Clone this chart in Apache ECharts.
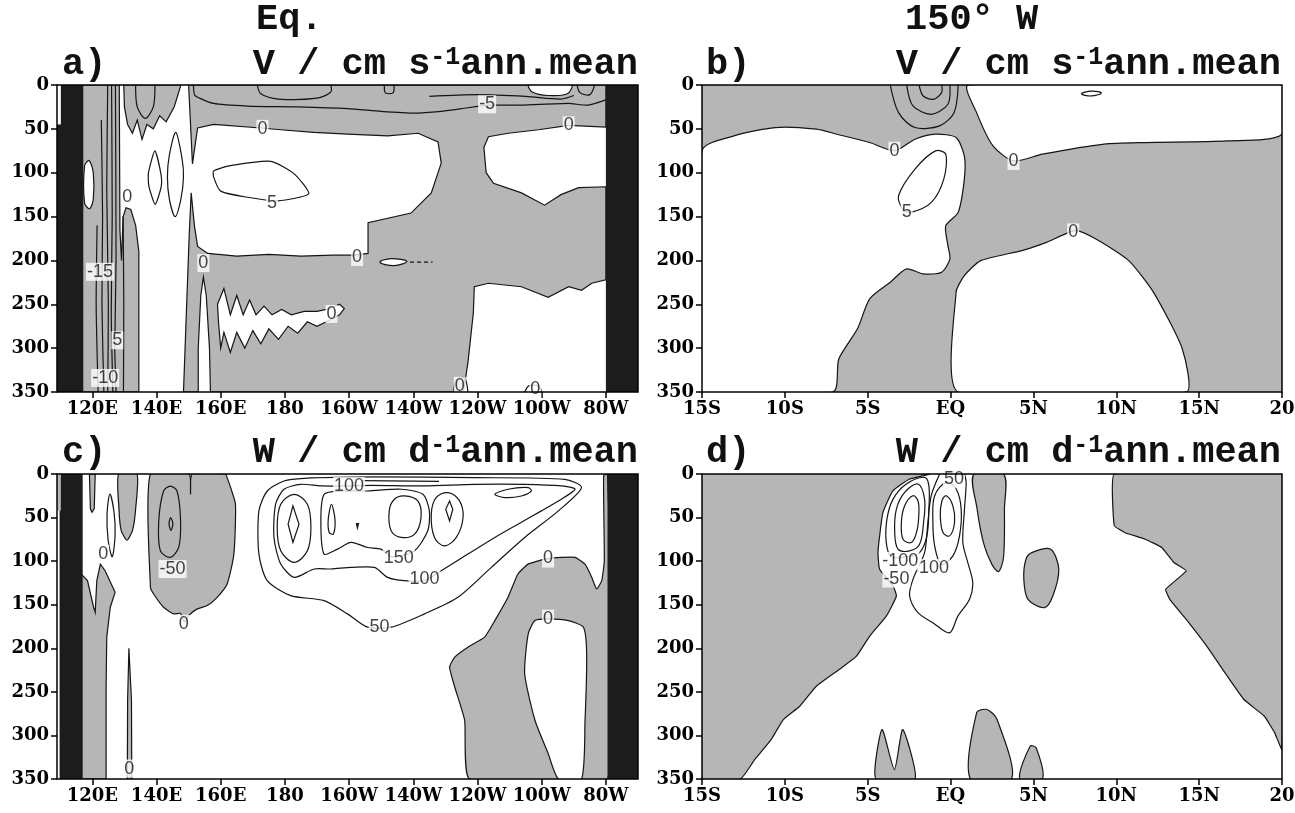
<!DOCTYPE html>
<html><head><meta charset="utf-8">
<script src="https://cdn.jsdelivr.net/npm/echarts@6/dist/echarts.min.js"></script>
<style>html,body{margin:0;padding:0;background:#fff}#c{width:1295px;height:813px}</style>
</head><body><div id="c"></div>
<script>
// ---------- axis ticks ----------
const lonTicks = [120,140,160,180,200,220,240,260,280];
const lonTickLabels = ['120E','140E','160E','180','160W','140W','120W','100W','80W'];
const latTickLabels = ['15S','10S','5S','EQ','5N','10N','15N','20'];

// ---------- panel a : V, Equator (lon, depth) ----------
const aLandL = [[109,0],[117,0],[117,350],[109,350]];
const aLandR = [[280,0],[290,0],[290,350],[280,350]];
const aCornerWhite = [[109,0],[110.2,0],[110.2,45],[109,45]];
const aGrayLeft = [[117,0],[128.4,0],[128.6,165],[129.1,200],[129.6,150],[130.5,140],[132,142],[133.5,160],[134.5,190],[134.5,350],[117,350]];
const aBlobWhite = [[117.6,92],[119,86],[120.3,100],[120.3,130],[119.2,141],[117.6,135]];
const aGrayCap = [[129.8,0],[147.6,0],[145.5,25],[143,42],[141,35],[139,50],[137,45],[135.5,62],[134,40],[132.5,55],[131,45],[130,25]];
const aGrayMain = [[150,0],[280,0],[280,48],[268.4,46],[259,51],[249.6,55],[243.4,59],[242,71],[242.7,100],[245,112],[253.7,123],[260.9,137],[266,125],[271.5,117],[280,116],[280,222],[275.6,226],[272.4,234],[268.4,230],[262,242],[253.7,230],[243.4,226],[239,230],[238.7,260],[237,317],[235.6,350],[156.8,350],[156.5,300],[155.5,240],[154.6,219],[153.8,240],[153,300],[153,350],[148.4,350],[149.5,240],[150.2,170],[150.8,123],[151.8,160],[152.8,184],[156,192],[165,195],[175,193],[185,195],[195,194],[201.5,194],[205.9,192],[205.9,157],[219.3,146],[225.6,123],[228.7,89],[227.7,65],[221.5,55],[212,58],[199.6,56],[189,54],[178.7,51],[172.4,49],[157.8,45],[152.8,49],[151.2,90]];
const aJagWhite = [[159,250],[161,232],[163,262],[165,240],[167,262],[169,245],[171,262],[173.5,252],[176,262],[179,256],[182,262],[186,258],[190,258],[194,255],[197,250],[198.5,255],[197,262],[194,268],[190,275],[187,270],[184,283],[181,275],[178,290],[175,278],[172.5,295],[170,280],[167.5,300],[165,282],[163,305],[161,282],[160,300],[159.3,270]];
const aLensWhite = [[209.6,202],[213,198],[218,201],[214,206]];
const aTopBubble = [[256,0],[257,8],[262,12],[268,10],[269.3,0]];
const aCapLoop = [[133.5,0],[134,25],[136.5,38],[139,25],[139.5,0]];
const aLens1 = [[139.5,75],[141.3,100],[141.5,115],[139.6,136],[137.6,115],[137.5,100]];
const aLens2 = [[146,54],[148,85],[148.4,105],[147.6,130],[145.8,150],[144,130],[143.4,105],[144,80]];
const aLoop5 = [[157.8,98],[163,92],[175.6,87],[182.8,101],[187.4,124],[177.8,132],[168.4,128],[160,121],[157.8,105]];
const aMinus5 = [[151.5,0],[152,12],[157.8,21],[168.4,24],[184,25],[199.6,27],[209.9,30],[220.2,32],[228.7,30],[235,27],[243.3,23],[253.7,23],[268.3,21],[274.5,23],[280,17]];
const aTopLoop1 = [[171.4,0],[172.5,10],[178,16],[190,15],[194.3,8],[194.3,0]];
const aTopLoop2 = [[211,0],[211.3,9],[213.7,9],[214,0]];
const aTopLoop3 = [[271,0],[272,9],[275,11],[276.5,0]];
const aTopLine2 = [[225,13],[240,11],[255,13],[266,16],[270,12]];
const aV1 = [[121.5,160],[121.2,250],[121.8,350]];
const aV2 = [[122.8,40],[123.2,150],[123.0,250],[123.6,350]];
const aV3 = [[124.8,0],[124.5,120],[125,250],[124.8,350]];
const aV4 = [[126,0],[126.2,150],[125.9,260],[126.4,350]];
const aV5 = [[127.2,0],[127.4,200],[127.0,300],[127.4,350]];
const aV6 = [[129.6,150],[129.8,250],[129.7,350]];
const aHump1 = [[232.5,350],[233.5,336],[236,334],[237,350]];
const aHump2 = [[254.7,350],[256,343],[259,343],[260,350]];
const aDash = [[219,202],[226,202]];
const aLabels = [['0',173,50],['5',176,134],['0',130.9,128],['-15',122.4,213],['5',127.8,291],['-10',124,334],['0',154.6,203],['0',202.5,196],['0',194.5,261],['-5',243,22],['0',268.4,46],['0',234.5,343],['0',258,347]];

// ---------- panel b : V, 150W (lat, depth) ----------
const bGray = [[-15,0],[20,0],[20,350],[-15,350]];
const bWhiteLeft = [[-15,75.1],[-13.07,58],[-10.58,48.5],[-8.1,50.4],[-6.86,56.1],[-4.88,65.6],[-3.39,75.1],[-2.15,61.8],[-0.91,56.1],[0.33,59.9],[0.83,80.8],[0.83,107.3],[0.46,145.2],[-0.29,160.4],[-0.16,183.2],[-0.04,198.3],[-0.54,213.5],[-1.65,215.4],[-2.65,209.7],[-3.64,224.9],[-4.88,243.8],[-5.62,278],[-6.74,312.1],[-7.11,350],[-15,350]];
const bWhiteTopRight = [[1.08,0],[1.57,31.5],[2.56,69.4],[3.8,86.5],[5.54,78.9],[9.26,67.5],[11.74,65.6],[16.7,63.7],[20,56.1],[20,0]];
const bWhiteLowRight = [[0.46,350],[0.33,236.2],[0.83,217.3],[1.82,200.2],[4.3,188.8],[5.79,179.4],[7.53,166.1],[8.77,175.6],[10.75,200.2],[12.24,236.2],[13.98,300.7],[14.22,350]];
const bBubble = [[7.9,10],[8.5,7],[9.1,9],[8.5,12.5]];
const bLoop5 = [[-3.14,126.3],[-2.15,95.9],[-0.91,75.1],[-0.29,78.9],[-0.41,107.3],[-1.16,133.9],[-2.4,145.2],[-2.89,141.4]];
const bNeg1 = [[-3.64,0],[-3.14,31.5],[-2.15,48.5],[-0.66,46.6],[0.21,31.5],[0.46,0]];
const bNeg2 = [[-2.65,0],[-2.27,23.9],[-1.16,33.4],[-0.16,22],[-0.04,0]];
const bNeg3 = [[-1.9,0],[-1.65,12.5],[-1.03,16.3],[-0.54,8.7],[-0.54,0]];
const bLabels = [['0',-3.39,75],['0',3.8,86.5],['5',-2.65,145],['0',7.4,168]];

// ---------- panel c : W, Equator (lon, depth) ----------
const cLandL = [[109.8,0],[117,0],[117,350],[109.8,350]];
const cLandR = [[280.5,0],[290,0],[290,350],[280.5,350]];
const cCornerGray = [[109,0],[110.2,0],[110.2,42],[109,42]];
const cGrayLeft = [[116.5,114.8],[118.5,122.4],[120.4,152.9],[120.9,158.7],[121.4,122.4],[122.5,103.4],[124,111],[127.1,135.8],[125.6,152.9],[124.5,187.2],[124.3,244.4],[124.3,350],[116.5,350]];
const cGrayStrip = [[119.1,0],[120.9,0],[120.6,40],[119.9,44],[119.4,40]];
const cGrayTongue = [[128.2,0],[133.9,0],[133.5,40],[132.5,65],[130.8,76],[129,65],[128.3,40]];
const cGrayBig = [[138.1,0],[150.1,0],[150.6,23],[151.1,0],[161.5,0],[162,4.2],[163.1,15.7],[164.6,34.7],[164.1,91.9],[162,126.2],[158.9,141.5],[155.8,151],[152.7,154.8],[150,162.5],[148.7,170],[147.5,160],[145.4,160.5],[142.2,152.9],[139.1,137.7],[138.1,130]];
const cGrayThin = [[131.4,200],[132.2,260],[132.3,350],[130.9,350],[131,260]];
const cGrayRight = [[237.5,350],[236,282.6],[232.9,244.4],[231.3,221.6],[232.9,210.1],[237,198.7],[242.2,187.2],[245.4,168.2],[249.5,141.5],[252.6,114.8],[255.8,103.4],[261,97.6],[266.2,95.7],[270.4,95.7],[273.5,103.4],[275.6,118.6],[277.1,132],[278.7,122.4],[279.5,99.5],[279.3,2],[280.5,0],[280.5,350]];
const cWhiteInner = [[265.2,350],[262,320.7],[257.9,282.6],[254.7,229.2],[255.8,183.4],[257.9,168.2],[262,166.3],[268.3,168.2],[273,175.8],[274,206.3],[273.5,282.6],[272.4,350]];
const cLens = [[125.5,23],[126.8,45],[127.1,70],[126.2,95],[124.9,75],[124.6,45]];
const cNeg50 = [[140.7,53.8],[142.2,19.5],[144.3,13.8],[146.4,19.5],[147.5,53.8],[146.9,84.3],[144.3,95.7],[141.2,88.1]];
const cNegIn = [[144.4,50],[145.1,57],[144.5,65],[143.9,57]];
const cP50 = [[179.7,8],[174.5,19.5],[171.9,42.3],[171.9,91.9],[174.5,122.4],[181.8,139.6],[192.2,145.3],[199.5,160.5],[205.8,175.8],[213.1,175.8],[223.5,160.5],[233.9,141.5],[244.3,107.1],[254.7,72.8],[265.2,42.3],[272.4,15.6],[267.2,6.1],[239.1,4.2],[207.9,3.4],[186,5]];
const cP100 = [[179.7,17.5],[177.1,34.7],[176.6,72.8],[178.7,103.3],[182.9,118.6],[189.1,109],[194.3,109],[200.6,107.2],[207.9,107.2],[212,118.6],[217.2,122.4],[223.5,122],[228.7,111],[237,91.9],[245.4,72.8],[252.6,57.6],[259.9,42.3],[265.2,30.9],[270.4,17.5],[266.2,13.7],[254.7,11.8],[239.1,11.8],[223.5,13.7],[207,13],[199.5,13.7],[191.2,13.7],[184.9,11.8]];
const cLoopA = [[182.9,23.3],[187,34.7],[188.1,61.4],[187,88.1],[182.9,101.4],[178.7,88.1],[177.6,61.4],[178.7,34.7]];
const cDiamA = [[182.5,36.6],[184.4,57.6],[182.5,78.5],[181,57.6]];
const cLoopB = [[192.2,23.3],[191.2,53.8],[192.2,91.9],[196.4,86.2],[200.6,78.5],[205.8,84.3],[209.9,86.2],[213.5,95],[220.4,88],[224.5,65.2],[225,42.3],[223,23.3],[216.2,17.5],[205.8,19.5],[197.4,19.5]];
const cSmallB = [[194.5,34.7],[195.6,51.9],[195.1,69],[193.8,67.1],[193.5,51.9]];
const cLoopC = [[217.2,25.2],[221.4,30.9],[222.4,50],[220.4,69],[216.2,72.8],[213.1,65.2],[212.5,42.3],[214.1,29]];
const cLoopD = [[230.8,21.4],[234.4,30.9],[235.5,50],[233.4,72.8],[229.7,82.4],[226.6,72.8],[225.6,46.1],[227.1,27.1]];
const cDiamD = [[231.3,30.9],[232.3,40.4],[231.3,53.8],[230.1,40.4]];
const cLoopE = [[245.4,23.3],[249.5,17.5],[255.8,15.6],[256.8,19.5],[253.7,25.2],[248.5,27.1]];
const cDot = [[202.3,57],[202.9,57],[202.6,62]];
const cTopLine = [[204,7.5],[228,8.5]];
const cLabels = [['0',123.4,91.5],['-50',145,109],['0',148.5,172],['0',131.5,338],['100',200,13.7],['150',215.5,97],['100',223.5,121],['50',209.5,176],['0',262,97],['0',262,166]];

// ---------- panel d : W, 150W (lat, depth) ----------
const dLeft = [[-15,0],[-1.27,0],[-2.47,5.8],[-3.47,19.2],[-4.08,44.1],[-4.28,71],[-4.38,90.2],[-4.28,109.4],[-3.47,128.5],[-3.27,140],[-3.88,163.1],[-4.88,186],[-5.68,209.1],[-6.7,224],[-8.1,243.5],[-9.1,266.5],[-10.09,281.8],[-10.83,304.8],[-11.82,327.8],[-12.69,350],[-15,350]];
const dStrip = [[1.4,0],[3.2,0],[3.25,40],[3.2,95],[2.9,112],[2.5,104],[2.0,80],[1.6,40]];
const dBlob = [[4.93,90],[6.04,86.3],[6.53,109.3],[6.17,140],[5.66,153.4],[4.67,143.8],[4.42,120.8],[4.55,97.8]];
const dRight = [[9.88,0],[20,0],[20,316.3],[19.56,297.1],[18.94,278],[17.7,258.8],[16.7,232],[15.46,197.5],[14.22,166.8],[13.23,143.8],[12.98,132.3],[14.22,111.2],[13.48,101.6],[12.74,84.3],[11.74,74.8],[10.5,67.1],[9.88,59.4]];
const dB1 = [[-4.51,350],[-4.13,293.3],[-3.39,339.3],[-2.89,293.3],[-2.15,350]];
const dB2 = [[1.2,350],[1.57,274.1],[2.19,270.3],[2.81,281.8],[3.68,350]];
const dB3 = [[4.18,350],[4.8,312.5],[5.17,314.4],[5.54,350]];
const dN1 = [[-1.57,3.8],[-2.67,11.5],[-3.47,28.8],[-3.84,51.8],[-3.88,78.7],[-3.58,94.8],[-2.67,94.8],[-1.87,90.2],[-1.43,71],[-1.31,40.3],[-1.31,13.4]];
const dN2 = [[-1.97,11.5],[-2.77,21.1],[-3.27,40.3],[-3.37,67.1],[-3.17,86.3],[-2.47,88.2],[-1.87,80.6],[-1.63,55.6],[-1.57,28.8]];
const dN3 = [[-2.27,24.9],[-2.77,36.4],[-2.97,55.6],[-2.87,74.8],[-2.37,78.7],[-2.03,65.2],[-1.91,44.1],[-1.97,30.7]];
const dP50 = [[-0.66,0],[-1.17,25],[-1.37,55.6],[-1.57,90.2],[-2.27,120.9],[-2.47,140],[-1.97,159.2],[-1.07,170.7],[-0.06,182.3],[0.44,163.1],[1.14,143.9],[1.34,124.7],[1.04,101.7],[0.74,78.7],[0.84,40.3],[0.94,9.6],[0.84,0]];
const dP100 = [[-0.26,9.6],[0.34,17.3],[0.64,40.3],[0.54,71],[0.14,94],[-0.56,103.6],[-0.96,82.5],[-1.07,51.8],[-0.96,24.9]];
const dP150 = [[-0.26,24.9],[0.14,36.5],[0.24,55.6],[-0.06,71],[-0.46,67.1],[-0.62,48],[-0.52,30.7]];
const dLabels = [['-100',-3.03,99.8],['-50',-3.27,120],['100',-1.0,108],['50',0.2,6]];

// ---------- build ----------
const GRAY = '#b6b6b6', LAND = '#1c1c1c', LINE = '#151515', WHITE = '#ffffff';
function F(p, fill, stroke, sm){ return {k:'poly', p:p, f:fill, s:stroke, sm:sm||0}; }
function C(p, sm){ return {k:'poly', p:p, f:null, s:LINE, sm:sm||0}; }
function L(p, sm, dash){ return {k:'line', p:p, s:LINE, sm:sm||0, dash:dash}; }

const panels = [
  { grid:{left:57, top:85, width:581, height:307}, x:'lon', labels:aLabels, items:[
    F(aGrayLeft,GRAY,LINE), F(aGrayCap,GRAY,LINE), F(aGrayMain,GRAY,LINE),
    F(aBlobWhite,WHITE,LINE,0.3), F(aJagWhite,WHITE,LINE), F(aLensWhite,WHITE,LINE,0.4), F(aTopBubble,WHITE,LINE,0.3),
    F(aLandL,LAND,null), F(aLandR,LAND,null), F(aCornerWhite,WHITE,null),
    L(aCapLoop,0.3), C(aLens1,0.2), C(aLens2,0.3), C(aLoop5,0.2), L(aMinus5,0.2), L(aTopLoop1,0.3), L(aTopLoop2,0.3), L(aTopLoop3,0.3), L(aTopLine2,0.3),
    L(aV1,0.2), L(aV2,0.2), L(aV3,0.2), L(aV4,0.2), L(aV5,0.2), L(aV6,0.2), L(aHump1,0.3), L(aHump2,0.3), L(aDash,0,[4,3])
  ]},
  { grid:{left:702, top:85, width:580, height:307}, x:'lat', labels:bLabels, items:[
    F(bGray,GRAY,null), F(bWhiteLeft,WHITE,LINE,0.25), F(bWhiteTopRight,WHITE,LINE,0.25), F(bWhiteLowRight,WHITE,LINE,0.2), F(bBubble,WHITE,LINE,0.4),
    C(bLoop5,0.3), L(bNeg1,0.3), L(bNeg2,0.3), L(bNeg3,0.3)
  ]},
  { grid:{left:57, top:474, width:581, height:305}, x:'lon', labels:cLabels, items:[
    F(cGrayLeft,GRAY,LINE), F(cGrayStrip,GRAY,LINE), F(cGrayTongue,GRAY,LINE,0.2), F(cGrayBig,GRAY,LINE,0.2), F(cGrayThin,GRAY,LINE), F(cGrayRight,GRAY,LINE,0.15), F(cWhiteInner,WHITE,LINE,0.2),
    F(cLandL,LAND,null), F(cLandR,LAND,null), F(cCornerGray,GRAY,null),
    C(cLens,0.3), C(cNeg50,0.3), C(cNegIn,0.3),
    C(cP50,0.25), C(cP100,0.25), C(cLoopA,0.35), C(cDiamA,0), C(cLoopB,0.25), C(cSmallB,0.3), C(cLoopC,0.35), C(cLoopD,0.35), C(cDiamD,0), C(cLoopE,0.3),
    F(cDot,LINE,LINE), L(cTopLine,0)
  ]},
  { grid:{left:702, top:474, width:580, height:305}, x:'lat', labels:dLabels, items:[
    F(dLeft,GRAY,LINE,0.15), F(dStrip,GRAY,LINE,0.3), F(dBlob,GRAY,LINE,0.3), F(dRight,GRAY,LINE,0.1), F(dB1,GRAY,LINE,0.2), F(dB2,GRAY,LINE,0.3), F(dB3,GRAY,LINE,0.3),
    C(dN1,0.35), C(dN2,0.35), C(dN3,0.35), L(dP50,0.3), C(dP100,0.35), C(dP150,0.35)
  ]}
];

const tickFont = {color:'#000', fontFamily:'DejaVu Serif', fontWeight:'bold', fontSize:18};
function xAxisFor(p, i){
  const base = {gridIndex:i, type:'value', position:'bottom', axisLine:{show:false, onZero:false}, splitLine:{show:false},
    axisTick:{show:true, length:6, inside:false, lineStyle:{color:'#000', width:1.5}},
    axisLabel:Object.assign({margin:8}, tickFont)};
  if (p.x === 'lon') {
    base.min = 109; base.max = 290;
    base.axisTick.customValues = lonTicks;
    base.axisLabel.customValues = lonTicks;
    base.axisLabel.formatter = v => lonTickLabels[lonTicks.indexOf(Math.round(v))];
  } else {
    base.min = -15; base.max = 20; base.interval = 5;
    base.axisLabel.formatter = v => latTickLabels[Math.round((v + 15) / 5)];
  }
  return base;
}

function renderFor(items){
  return function(params, api){
    const it = items[params.dataIndex];
    const pts = it.p.map(q => api.coord(q));
    if (it.k === 'poly') {
      return {type:'polygon', shape:{points:pts, smooth:it.sm}, style:{fill:it.f || 'none', stroke:it.s || null, lineWidth:1.2}};
    }
    return {type:'polyline', shape:{points:pts, smooth:it.sm}, style:{fill:'none', stroke:it.s, lineWidth:1.2, lineDash:it.dash || null}};
  };
}

const series = [];
panels.forEach((p, i) => {
  series.push({type:'custom', xAxisIndex:i, yAxisIndex:i, clip:true, silent:true, z:2,
    data:p.items.map(it => [it.p[0][0], it.p[0][1]]), renderItem:renderFor(p.items)});
  series.push({type:'scatter', xAxisIndex:i, yAxisIndex:i, silent:true, z:5, symbolSize:0,
    data:p.labels.map(l => ({name:l[0], value:[l[1], l[2]]})),
    label:{show:true, position:'inside', formatter:'{b}', fontFamily:'Liberation Sans', fontSize:18, color:'#111',
      backgroundColor:'#fff', padding:[0,1], lineHeight:18}});
});

const titleStyle = {fontFamily:'Liberation Mono', fontWeight:'bold', fontSize:37, color:'#111', lineHeight:40,
  rich:{sup:{fontFamily:'Liberation Mono', fontWeight:'bold', fontSize:25, color:'#111', verticalAlign:'top', lineHeight:40}}};
function T(text, pos){ return Object.assign({text:text, padding:0, itemGap:0, textStyle:titleStyle}, pos); }

const option = {
  animation:false,
  backgroundColor:'#fff',
  title:[
    T('Eq.', {left:256, top:0}),
    T('150° W', {left:905, top:0}),
    T('a)', {left:62, top:45}),
    T('V / cm s{sup|-1}ann.mean', {right:657, top:45}),
    T('b)', {left:706, top:45}),
    T('V / cm s{sup|-1}ann.mean', {right:14, top:45}),
    T('c)', {left:62, top:433}),
    T('W / cm d{sup|-1}ann.mean', {right:657, top:433}),
    T('d)', {left:706, top:433}),
    T('W / cm d{sup|-1}ann.mean', {right:14, top:433})
  ],
  grid:panels.map(p => Object.assign({show:true, borderColor:'#000', borderWidth:1.5, backgroundColor:'transparent', z:10, containLabel:false, outerBoundsMode:'none'}, p.grid)),
  xAxis:panels.map((p, i) => xAxisFor(p, i)),
  yAxis:panels.map((p, i) => ({gridIndex:i, type:'value', position:'left', min:0, max:350, interval:50, inverse:true,
    axisLine:{show:false, onZero:false}, splitLine:{show:false},
    axisTick:{show:true, length:6, inside:false, lineStyle:{color:'#000', width:1.5}},
    axisLabel:Object.assign({margin:8}, tickFont)})),
  series:series
};

const chart = echarts.init(document.getElementById('c'), null, {renderer:'canvas'});
chart.setOption(option);
</script></body></html>
